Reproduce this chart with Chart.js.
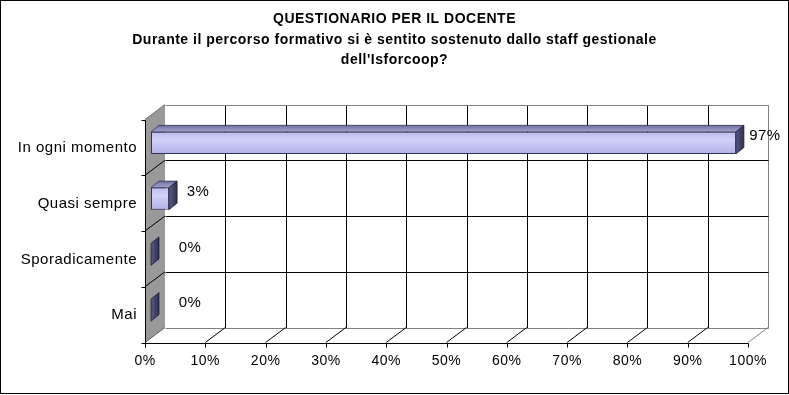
<!DOCTYPE html>
<html>
<head>
<meta charset="utf-8">
<script src="https://cdn.jsdelivr.net/npm/chart.js@4/dist/chart.umd.min.js"></script>
<style>
html,body{margin:0;padding:0;background:#fff;}
#wrap{width:789px;height:395px;position:relative;}
</style>
</head>
<body>
<div id="wrap"><canvas id="c" width="789" height="395"></canvas></div>
<script>
const titleLines = [
  'QUESTIONARIO PER IL DOCENTE',
  'Durante il percorso formativo si è sentito sostenuto dallo staff gestionale',
  "dell'Isforcoop?"
];
const categories = ['In ogni momento', 'Quasi sempre', 'Sporadicamente', 'Mai'];
const values = [97, 3, 0, 0];
const valueLabels = ['97%', '3%', '0%', '0%'];
const xTickValues = [0, 10, 20, 30, 40, 50, 60, 70, 80, 90, 100];

const FONT = '"Liberation Sans", Arial, sans-serif';
// depth geometry relative to bar plane
const FRONT = {dx: -6, dy: 4.5};
const BACK = {dx: 14, dy: -10.5};
const BAR_DEPTH = {dx: 8, dy: -6.5};

function px(v){ return Math.round(v) + 0.5; }
function line(ctx, x1, y1, x2, y2, color){
  ctx.beginPath(); ctx.strokeStyle = color; ctx.lineWidth = 1;
  ctx.moveTo(x1, y1); ctx.lineTo(x2, y2); ctx.stroke();
}

const scenePlugin = {
  id: 'scene',
  afterLayout(chart){
    const t = chart.titleBlock;
    if (t) { t.left = 0; t.right = chart.width; t.width = chart.width; }
  },
  beforeDraw(chart){
    const ctx = chart.ctx;
    ctx.save();
    ctx.fillStyle = '#fff';
    ctx.fillRect(0, 0, chart.width, chart.height);
    ctx.restore();
    if ('letterSpacing' in ctx) ctx.letterSpacing = '0.5px';
  },
  beforeDatasetsDraw(chart){
    const ctx = chart.ctx, xs = chart.scales.x, ys = chart.scales.y;
    const n = categories.length;
    const top = ys.top, bottom = ys.bottom, h = (bottom - top) / n;
    const X = v => xs.getPixelForValue(v);
    ctx.save();
    const bL = X(0) + BACK.dx, bR = X(100) + BACK.dx;
    const bT = top + BACK.dy, bB = bottom + BACK.dy;
    ctx.fillStyle = '#fff';
    ctx.fillRect(bL, bT, bR - bL, bB - bT);
    xTickValues.forEach(v => {
      if (v === 0) return;
      const x = px(X(v) + BACK.dx);
      line(ctx, x, px(bT), x, px(bB), v === 100 ? '#808080' : '#000');
    });
    for (let i = 0; i <= n; i++) {
      const y = px(top + i * h + BACK.dy);
      line(ctx, px(bL), y, px(bR), y, (i === 0 || i === n) ? '#808080' : '#000');
    }
    xTickValues.forEach(v => {
      if (v === 0) return;
      line(ctx, X(v) + FRONT.dx, bottom + FRONT.dy, X(v) + BACK.dx, bottom + BACK.dy,
        v === 100 ? '#808080' : '#000');
    });
    const fL = X(0) + FRONT.dx;
    ctx.beginPath();
    ctx.moveTo(fL, top + FRONT.dy);
    ctx.lineTo(bL, top + BACK.dy);
    ctx.lineTo(bL, bottom + BACK.dy);
    ctx.lineTo(fL, bottom + FRONT.dy);
    ctx.closePath();
    ctx.fillStyle = '#999999';
    ctx.fill();
    line(ctx, fL, top + FRONT.dy, bL, top + BACK.dy, '#707070');
    for (let i = 1; i < n; i++) {
      const y = top + i * h;
      line(ctx, fL, y + FRONT.dy, bL, y + BACK.dy, '#000');
    }
    line(ctx, fL, bottom + FRONT.dy, bL, bottom + BACK.dy, '#606060');
    const ax = px(fL), ay = px(bottom + FRONT.dy);
    line(ctx, ax, px(top + FRONT.dy), ax, ay + 4, '#000');
    line(ctx, ax, ay, px(X(100) + FRONT.dx), ay, '#000');
    for (let i = 0; i <= n; i++) {
      const y = px(top + i * h + FRONT.dy);
      line(ctx, ax - 4, y, ax, y, '#000');
    }
    xTickValues.forEach(v => {
      const x = px(X(v) + FRONT.dx);
      line(ctx, x, ay, x, ay + 4, '#000');
    });
    ctx.restore();
  },
  afterDatasetsDraw(chart){
    const ctx = chart.ctx;
    const meta = chart.getDatasetMeta(0);
    ctx.save();
    meta.data.forEach((el, i) => {
      const p = el.getProps(['x', 'y', 'base', 'height'], true);
      const x0 = p.base, xe = p.x, yt = p.y - p.height / 2, yb = p.y + p.height / 2;
      const dx = BAR_DEPTH.dx, dy = BAR_DEPTH.dy;
      if (xe - x0 > 0.5) {
        const g = ctx.createLinearGradient(0, yt + dy, 0, yt);
        g.addColorStop(0, '#6e6ea0');
        g.addColorStop(1, '#a4a4d4');
        ctx.beginPath();
        ctx.moveTo(x0, yt); ctx.lineTo(x0 + dx, yt + dy);
        ctx.lineTo(xe + dx, yt + dy); ctx.lineTo(xe, yt); ctx.closePath();
        ctx.fillStyle = g; ctx.fill();
        ctx.strokeStyle = '#333355'; ctx.lineWidth = 0.8; ctx.stroke();
      }
      const g2 = ctx.createLinearGradient(xe, 0, xe + dx, 0);
      g2.addColorStop(0, '#5a5a8a');
      g2.addColorStop(1, '#2e2e4a');
      ctx.beginPath();
      ctx.moveTo(xe, yt); ctx.lineTo(xe + dx, yt + dy);
      ctx.lineTo(xe + dx, yb + dy); ctx.lineTo(xe, yb); ctx.closePath();
      ctx.fillStyle = g2; ctx.fill();
      ctx.strokeStyle = '#222238'; ctx.lineWidth = 0.8; ctx.stroke();
      ctx.fillStyle = '#000';
      ctx.font = '15px ' + FONT;
      ctx.textAlign = 'center';
      ctx.textBaseline = 'middle';
      const lx = Math.max(xe + 29, x0 + 39);
      ctx.fillText(valueLabels[i], lx, p.y - 7);
    });
    ctx.restore();
  },
  afterDraw(chart){
    const ctx = chart.ctx;
    ctx.save();
    ctx.strokeStyle = '#000'; ctx.lineWidth = 1;
    ctx.strokeRect(0.5, 0.5, chart.width - 1, chart.height - 2);
    ctx.restore();
  }
};

function frontGradient(context){
  const chart = context.chart;
  const ys = chart.scales && chart.scales.y;
  if (!chart.chartArea || !ys) return '#c8c8f4';
  const n = categories.length;
  const h = (ys.bottom - ys.top) / n;
  const yc = ys.getPixelForValue(context.dataIndex);
  const bh = h * 0.395;
  const g = chart.ctx.createLinearGradient(0, yc - bh / 2, 0, yc + bh / 2);
  g.addColorStop(0, '#bcbcec');
  g.addColorStop(0.35, '#d2d2fc');
  g.addColorStop(1, '#b0b0e4');
  return g;
}

new Chart(document.getElementById('c'), {
  type: 'bar',
  data: {
    labels: categories,
    datasets: [{
      data: values,
      backgroundColor: frontGradient,
      borderColor: '#333355',
      borderWidth: 1,
      borderSkipped: false,
      categoryPercentage: 1,
      barPercentage: 0.395
    }]
  },
  options: {
    indexAxis: 'y',
    responsive: false,
    animation: false,
    events: [],
    layout: {padding: {left: 0, right: 35, top: 0, bottom: 0}},
    plugins: {
      legend: {display: false},
      tooltip: {enabled: false},
      title: {
        display: true,
        text: titleLines,
        color: '#000',
        font: {family: FONT, size: 14, weight: 'bold', lineHeight: 1.45},
        padding: {top: 9.4, bottom: 44.7}
      }
    },
    scales: {
      x: {
        type: 'linear', min: 0, max: 100,
        grid: {display: false, drawTicks: false},
        border: {display: false},
        afterBuildTicks: s => { s.ticks = xTickValues.map(v => ({value: v})); },
        afterFit: s => { s.height = 57; },
        ticks: {
          color: '#000',
          font: {family: FONT, size: 14},
          padding: 15,
          labelOffset: -6,
          maxRotation: 0,
          autoSkip: false,
          callback: v => v + '%'
        }
      },
      y: {
        grid: {display: false, drawTicks: false},
        border: {display: false},
        afterFit: s => { s.width = 151; },
        ticks: {
          color: '#000',
          font: {family: FONT, size: 15},
          padding: 14,
          labelOffset: 5,
          autoSkip: false
        }
      }
    }
  },
  plugins: [scenePlugin]
});
</script>
</body>
</html>
